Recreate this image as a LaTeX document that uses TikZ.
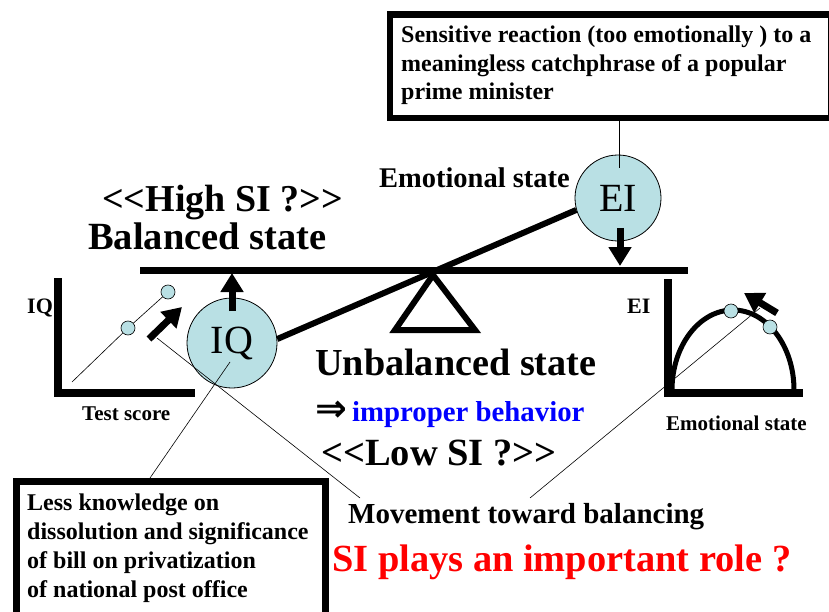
\documentclass[tikz,border=0pt]{standalone}
\usepackage{fontspec}
\setmainfont{Liberation Serif}
\newfontfamily\symfamily{DejaVu Sans}
\usetikzlibrary{arrows.meta}
\definecolor{ballfill}{RGB}{185,224,228}
\definecolor{pureblue}{RGB}{0,0,255}
\definecolor{purered}{RGB}{255,0,0}
\newcommand\fsz[1]{\fontsize{#1}{#1}\selectfont}

\begin{document}
\begin{tikzpicture}[x=1pt,y=-1pt,
  lbl/.style={anchor=base west, inner sep=0pt, font=\bfseries},
  ball/.style={circle, draw, fill=ballfill, line width=0.8pt, inner sep=0pt},
  dot/.style={circle, draw, fill=ballfill, line width=0.6pt, minimum size=14pt, inner sep=0pt},
  bigarrow/.style={line width=7pt, -{Triangle[length=19pt,width=22pt]}},
  axis/.style={line width=8pt, line join=miter},
  leader/.style={line width=0.6pt},
  frame/.style={draw, line width=6.5pt, inner sep=0pt},
]
\useasboundingbox (0,0) rectangle (829,612);

% ---- note boxes ----
\node[frame, anchor=north west, minimum width=441.5pt, minimum height=103.5pt] (topbox) at (386.5,11.5) {};
\node[lbl, font=\bfseries\fsz{24}] (top1) at (401,43) {Sensitive reaction (too emotionally ) to a};
\node[lbl, font=\bfseries\fsz{24}] (top2) at (401,71.5) {meaningless catchphrase of a popular};
\node[lbl, font=\bfseries\fsz{24}] (top3) at (401,100) {prime minister};

\node[frame, anchor=north west, minimum width=309pt, minimum height=150pt] (botbox) at (13,478) {};
\node[lbl, font=\bfseries\fsz{24}] (bot1) at (27,510) {Less knowledge on};
\node[lbl, font=\bfseries\fsz{24}] (bot2) at (27,539) {dissolution and significance};
\node[lbl, font=\bfseries\fsz{24}] (bot3) at (27,568) {of bill on privatization};
\node[lbl, font=\bfseries\fsz{24}] (bot4) at (27,597) {of national post office};

% ---- seesaw ----
\draw[line width=6pt, fill=white, line join=miter] (433,275) -- (395,330) -- (475,330) -- cycle;
\coordinate (beamL) at (140,270);
\coordinate (beamR) at (688,270);
\draw[line width=7pt] (beamL) -- (beamR);

\node[ball, minimum size=90pt] (IQ) at (232,343) {};
\node[ball, minimum size=86pt] (EI) at (618,198) {};
\node[font=\fsz{40}, inner sep=0pt] at (IQ) {IQ};
\node[font=\fsz{40}, inner sep=0pt] at (EI) {EI};
\draw[line width=6pt] (IQ.5) -- (EI.196);

\coordinate (iqPush) at (232,311);
\coordinate (iqBeam) at (232,273);
\draw[bigarrow] (iqPush) -- (iqBeam);
\coordinate (eiPush) at (620,228);
\coordinate (eiBeam) at (620,266);
\draw[bigarrow] (eiPush) -- (eiBeam);

% ---- IQ graph ----
\draw[axis] (58,278) -- (58,393) -- (195,393);
\coordinate (iqLine0) at (72,382);
\node[dot] (iqA) at (128,328) {};
\node[dot] (iqB) at (168,292) {};
\draw[leader] (iqLine0) -- (iqA) -- (iqB);
\coordinate (iqMoveTail) at (149,339);
\coordinate (iqMoveHead) at (182,307);
\draw[bigarrow] (iqMoveTail) -- (iqMoveHead);
\node[lbl, font=\bfseries\fsz{22}] (iqAxis) at (27,313) {IQ};
\node[lbl, font=\bfseries\fsz{21}] (testScore) at (82,420) {Test score};

% ---- EI graph ----
\draw[axis] (668,279) -- (668,393) -- (803,393);
\draw[line width=5pt] (672,390) arc[start angle=180, end angle=360, x radius=61, y radius=80];
\node[dot] (eiA) at (731,311) {};
\node[dot] (eiB) at (770,327) {};
\coordinate (eiMoveTail) at (777,313);
\coordinate (eiMoveHead) at (744,293);
\draw[bigarrow] (eiMoveTail) -- (eiMoveHead);
\node[lbl, font=\bfseries\fsz{22}] (eiAxis) at (627,313) {EI};
\node[lbl, anchor=base east, font=\bfseries\fsz{21}] (emoAxis) at (807,430) {Emotional state};

% ---- labels ----
\node[lbl, font=\bfseries\fsz{38}] (high) at (102,212) {<{}<High SI ?>{}>};
\node[lbl, font=\bfseries\fsz{38.5}] (balanced) at (88,250) {Balanced state};
\node[lbl, anchor=base east, font=\bfseries\fsz{28.5}] (emo) at (570,188) {Emotional state};
\node[lbl, font=\bfseries\fsz{38.2}] (unbalanced) at (315,375) {Unbalanced state};
\node[lbl, font=\symfamily\bfseries\fsz{38}] (implies) at (315,421) {⇒};
\node[lbl, font=\bfseries\fsz{28.8}, text=pureblue] (improper) at (352,421) {improper behavior};
\node[lbl, font=\bfseries\fsz{38.5}] (low) at (321,465) {<{}<Low SI ?>{}>};
\node[lbl, font=\bfseries\fsz{29}] (movement) at (348,523) {Movement toward balancing};
\node[lbl, font=\bfseries\fsz{38.4}, text=purered] (role) at (332,571) {SI plays an important role ?};

% ---- leader lines ----
\coordinate (eiTag) at (619,168);
\draw[leader] (topbox.south -| eiTag) -- (eiTag);
\coordinate (iqTag) at (230,362);
\coordinate (botTag) at (150,478);
\draw[leader] (iqTag) -- (botTag);
\coordinate (mvL) at (360,498);
\coordinate (mvR) at (530,498);
\coordinate (mvLstart) at (157,338);
\coordinate (mvRend) at (760,308);
\draw[leader] (mvLstart) -- (mvL);
\draw[leader] (mvR) -- (mvRend);
\end{tikzpicture}
\end{document}
